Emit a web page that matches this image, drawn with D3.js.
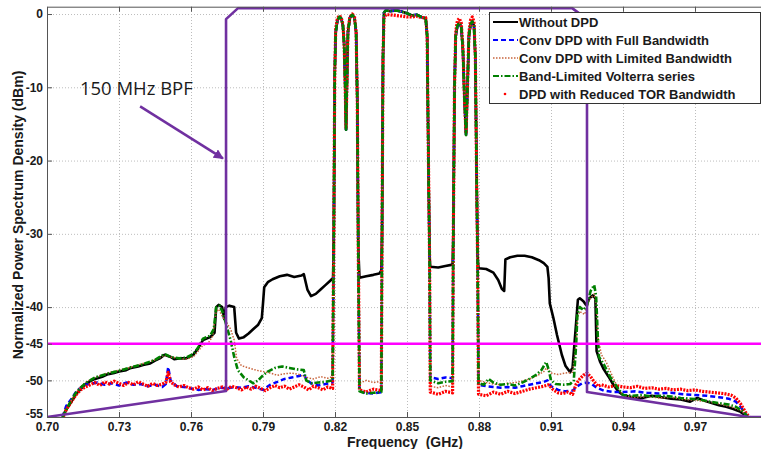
<!DOCTYPE html>
<html>
<head>
<meta charset="utf-8">
<script src="https://cdn.jsdelivr.net/npm/d3@7"></script>
<style>
  body { margin: 0; background: #fff; }
  svg { display: block; font-family: "Liberation Sans", Arial, sans-serif; }
</style>
</head>
<body>
<div id="chart"></div>
<script>
// ---- axis ticks ----
const xTicks = [0.70, 0.73, 0.76, 0.79, 0.82, 0.85, 0.88, 0.91, 0.94, 0.97];
const yTicks = [0, -10, -20, -30, -40, -45, -50, -55];

// ---- carrier shapes (shared by the DPD curves) ----
const carrierA = [[0.8195,-30],[0.8199,-8],[0.8203,-2.5],[0.8210,-0.9],[0.8218,-0.4],[0.8226,-0.6],[0.8233,-1.6],[0.8238,-4],[0.8242,-9],[0.8246,-15.8],[0.8250,-9],[0.8254,-2.5],[0.8262,-0.5],[0.8272,-0.1],[0.8281,-0.5],[0.8288,-2.5],[0.8293,-12],[0.8297,-32]];
const carrierB = [[0.8396,-30],[0.8400,-6],[0.8404,0.2],[0.8412,0.5],[0.8430,0.4],[0.8455,0.5],[0.8480,0.3],[0.8500,0.1],[0.8520,-0.2],[0.8540,-0.1],[0.8560,-0.4],[0.8578,-0.6],[0.8584,-3],[0.8590,-22],[0.8594,-33]];
const carrierC = [[0.8693,-30],[0.8698,-10],[0.8703,-3],[0.8710,-1.6],[0.8718,-1.2],[0.8726,-1.8],[0.8733,-5],[0.8740,-12],[0.8746,-16.5],[0.8752,-10],[0.8758,-3],[0.8765,-1.4],[0.8772,-1.0],[0.8779,-1.6],[0.8785,-6],[0.8790,-22],[0.8794,-33]];
const redCarrierA = [[0.8195,-30],[0.8199,-8],[0.8203,-2.0],[0.8210,-0.6],[0.8218,-0.2],[0.8226,-0.5],[0.8233,-1.4],[0.8238,-4],[0.8242,-9],[0.8246,-15.5],[0.8250,-9],[0.8254,-2.2],[0.8262,-0.4],[0.8272,0.0],[0.8281,-0.3],[0.8288,-2.5],[0.8293,-12],[0.8297,-32]];
const redCarrierB = [[0.8396,-30],[0.8400,-6],[0.8404,-0.6],[0.8412,-0.1],[0.8430,-0.1],[0.8455,-0.2],[0.8480,-0.3],[0.8500,-0.4],[0.8520,-0.4],[0.8540,-0.3],[0.8560,-0.5],[0.8578,-0.5],[0.8584,-3],[0.8590,-22],[0.8594,-33]];
const redCarrierC = [[0.8693,-30],[0.8698,-10],[0.8703,-2.5],[0.8710,-0.9],[0.8718,-0.6],[0.8726,-1.2],[0.8733,-4.5],[0.8740,-12],[0.8746,-16.3],[0.8752,-10],[0.8758,-2.5],[0.8765,-0.8],[0.8772,-0.4],[0.8779,-1.0],[0.8785,-6],[0.8790,-22],[0.8794,-33]];

// ---- Without DPD ----
const blackLeft = [[0.7065,-55],[0.708,-54],[0.710,-53],[0.712,-51.9],[0.714,-51.2],[0.716,-50.5],[0.718,-50.1],[0.720,-49.8],[0.723,-49.5],[0.725,-49.2],[0.728,-49.0],[0.730,-48.8],[0.733,-48.6],[0.735,-48.3],[0.738,-48.1],[0.740,-47.9],[0.743,-47.7],[0.745,-47.3],[0.747,-47.0],[0.749,-46.5],[0.7515,-46.8],[0.753,-47.1],[0.755,-47.0],[0.758,-47.0],[0.761,-46.5],[0.763,-45.6],[0.765,-44.5],[0.768,-44.1],[0.7698,-43.5],[0.7705,-40.0],[0.7715,-39.7],[0.773,-40.0],[0.7738,-41.6],[0.7745,-40.0],[0.776,-39.8],[0.778,-40.0],[0.7788,-43.5],[0.780,-44.3],[0.782,-44.1],[0.784,-43.6],[0.786,-43.0],[0.788,-42.4],[0.7895,-41.5],[0.790,-39.5],[0.7905,-37.3],[0.792,-36.6],[0.794,-36.2],[0.797,-35.8],[0.800,-35.6],[0.803,-35.9],[0.806,-35.7],[0.807,-35.5],[0.8085,-37.6],[0.810,-38.5],[0.812,-38.2],[0.814,-37.6],[0.816,-37.0],[0.818,-36.4],[0.8192,-36.0]];
const blackGap1 = [[0.8302,-36.0],[0.833,-35.8],[0.836,-35.6],[0.8385,-35.4],[0.8393,-35.0]];
const blackGap2 = [[0.8597,-34.5],[0.863,-34.6],[0.866,-34.4],[0.869,-34.2]];
const blackRight = [[0.8798,-34.7],[0.883,-34.8],[0.886,-35.3],[0.888,-36.3],[0.8895,-37.5],[0.8905,-37.8],[0.891,-33.5],[0.893,-33.2],[0.896,-33.0],[0.899,-33.0],[0.902,-33.2],[0.905,-33.6],[0.907,-34.0],[0.9085,-34.5],[0.909,-36],[0.9095,-39.5],[0.911,-41.5],[0.9125,-43.8],[0.9145,-46.5],[0.916,-48.0],[0.918,-48.9],[0.919,-48.2],[0.9205,-42],[0.9212,-39],[0.922,-38.8],[0.9235,-39.2],[0.9246,-39.7],[0.926,-38.8],[0.9275,-38.4],[0.9285,-38.8],[0.929,-46],[0.9305,-47.5],[0.932,-48.5],[0.934,-49.5],[0.936,-50.6],[0.938,-51.5],[0.940,-52.0],[0.944,-52.3],[0.948,-52.4],[0.952,-52.1],[0.956,-52.3],[0.960,-52.5],[0.964,-52.6],[0.968,-52.9],[0.971,-52.4],[0.974,-52.8],[0.977,-53.1],[0.980,-53.4],[0.983,-53.6],[0.986,-53.9],[0.989,-54.3],[0.991,-54.8],[0.992,-55]];

// ---- Conv DPD with Full Bandwidth ----
const blueLeft = [[0.7065,-55],[0.708,-53.5],[0.710,-52.6],[0.712,-51.6],[0.714,-51.0],[0.716,-50.6],[0.718,-50.5],[0.721,-50.3],[0.724,-50.6],[0.727,-50.4],[0.730,-50.7],[0.733,-50.3],[0.736,-50.6],[0.739,-50.5],[0.742,-50.8],[0.745,-50.6],[0.748,-50.9],[0.7495,-50.5],[0.7505,-48.2],[0.7515,-50.0],[0.754,-50.8],[0.757,-50.9],[0.760,-51.1],[0.763,-51.3],[0.766,-51.2],[0.769,-51.3],[0.772,-51.0],[0.775,-51.1],[0.778,-50.9],[0.781,-51.0],[0.784,-50.8],[0.787,-51.0],[0.790,-51.3],[0.793,-50.6],[0.796,-50.2],[0.799,-49.8],[0.802,-49.6],[0.805,-49.4],[0.807,-49.2],[0.808,-49.8],[0.810,-50.4],[0.813,-50.7],[0.816,-50.5],[0.819,-50.3]];
const blueGap1 = [[0.8302,-51.5],[0.833,-51.7],[0.836,-51.8],[0.8393,-51.6]];
const blueGap2 = [[0.8597,-49.6],[0.863,-49.8],[0.866,-49.6],[0.869,-49.7]];
const blueRight = [[0.8798,-50.6],[0.883,-50.8],[0.886,-50.9],[0.889,-51.0],[0.892,-50.9],[0.895,-51.0],[0.898,-50.8],[0.901,-50.6],[0.904,-50.4],[0.907,-50.2],[0.9085,-50.0],[0.910,-50.8],[0.913,-51.3],[0.916,-51.5],[0.919,-51.4],[0.921,-50.8],[0.923,-50.4],[0.925,-50.3],[0.927,-50.5],[0.929,-51.0],[0.932,-51.4],[0.936,-51.6],[0.940,-51.6],[0.945,-51.5],[0.950,-51.7],[0.955,-51.8],[0.960,-51.7],[0.965,-51.9],[0.970,-52.0],[0.975,-52.1],[0.980,-52.3],[0.984,-52.5],[0.987,-52.9],[0.989,-53.6],[0.991,-54.6],[0.992,-55]];

// ---- Conv DPD with Limited Bandwidth ----
const brownLeft = [[0.7065,-55],[0.708,-54],[0.710,-52.8],[0.712,-51.6],[0.714,-50.9],[0.716,-50.3],[0.718,-49.9],[0.720,-49.6],[0.725,-49.0],[0.730,-48.6],[0.735,-48.2],[0.740,-47.7],[0.745,-47.2],[0.749,-46.6],[0.7515,-46.8],[0.755,-47.0],[0.758,-47.1],[0.761,-46.8],[0.763,-46.0],[0.765,-45.2],[0.767,-45.0],[0.769,-44.0],[0.7705,-40.6],[0.7715,-40.3],[0.773,-41.2],[0.775,-42.2],[0.7765,-43.0],[0.778,-44.5],[0.779,-47.0],[0.781,-48.0],[0.784,-48.3],[0.787,-48.6],[0.790,-48.8],[0.793,-49.0],[0.796,-49.3],[0.799,-49.1],[0.802,-49.0],[0.805,-49.2],[0.808,-49.6],[0.811,-49.8],[0.814,-49.5],[0.817,-49.7],[0.819,-49.5]];
const brownGap1 = [[0.8302,-50.4],[0.833,-50.0],[0.836,-50.3],[0.8393,-50.1]];
const brownGap2 = [[0.8597,-50.8],[0.863,-51.0],[0.866,-50.7],[0.869,-50.9]];
const brownRight = [[0.8798,-50.0],[0.883,-50.3],[0.886,-50.5],[0.889,-50.6],[0.892,-50.4],[0.895,-50.3],[0.898,-50.1],[0.901,-49.8],[0.904,-49.4],[0.907,-48.8],[0.908,-48.3],[0.910,-49.0],[0.913,-49.2],[0.916,-49.0],[0.919,-48.9],[0.9205,-45],[0.921,-41.5],[0.922,-40.6],[0.924,-41.0],[0.926,-39.0],[0.928,-38.2],[0.929,-40],[0.9295,-44],[0.931,-46.5],[0.933,-47.5],[0.935,-49.0],[0.9375,-50.8],[0.940,-52.1],[0.945,-52.3],[0.950,-52.2],[0.955,-52.4],[0.960,-52.3],[0.965,-52.6],[0.970,-52.7],[0.975,-52.9],[0.980,-53.2],[0.985,-53.6],[0.989,-54.1],[0.992,-55]];

// ---- Band-Limited Volterra series ----
const greenLeft = [[0.7065,-55],[0.708,-54],[0.710,-52.8],[0.712,-51.7],[0.714,-51.0],[0.716,-50.4],[0.718,-50.0],[0.720,-49.6],[0.725,-49.1],[0.730,-48.7],[0.735,-48.2],[0.740,-47.8],[0.745,-47.2],[0.749,-46.4],[0.7515,-46.8],[0.755,-47.0],[0.758,-46.9],[0.761,-46.4],[0.763,-45.5],[0.765,-44.3],[0.768,-43.9],[0.7695,-43],[0.7705,-40.0],[0.772,-39.8],[0.7735,-41.0],[0.775,-42.8],[0.7765,-44.5],[0.778,-46.8],[0.7795,-48.6],[0.782,-49.6],[0.784,-50.0],[0.786,-50.4],[0.788,-50.0],[0.790,-49.3],[0.792,-48.8],[0.795,-48.3],[0.798,-48.1],[0.801,-48.3],[0.804,-48.5],[0.807,-48.6],[0.808,-50.0],[0.810,-50.4],[0.813,-50.3],[0.816,-50.2],[0.819,-50.0]];
const greenGap1 = [[0.8302,-51.5],[0.833,-51.8],[0.836,-51.7],[0.8393,-51.6]];
const greenGap2 = [[0.8597,-50.0],[0.863,-50.4],[0.866,-50.2],[0.869,-50.1]];
const greenRight = [[0.8798,-50.4],[0.882,-50.6],[0.884,-49.8],[0.886,-50.3],[0.889,-50.6],[0.892,-50.5],[0.895,-50.7],[0.898,-50.3],[0.901,-49.8],[0.904,-49.2],[0.906,-48.6],[0.908,-47.5],[0.909,-48.5],[0.910,-50.0],[0.912,-50.5],[0.915,-50.6],[0.918,-50.5],[0.9195,-50.0],[0.9205,-45],[0.921,-41],[0.922,-40.0],[0.9235,-40.4],[0.925,-39.8],[0.9265,-37.8],[0.928,-37.0],[0.9288,-38.5],[0.9295,-44],[0.930,-46.8],[0.932,-47.8],[0.9346,-49.5],[0.9375,-50.9],[0.940,-52.0],[0.944,-52.1],[0.948,-52.0],[0.952,-52.2],[0.956,-52.1],[0.960,-52.2],[0.964,-52.4],[0.968,-52.5],[0.972,-52.6],[0.976,-52.9],[0.980,-53.1],[0.984,-53.3],[0.987,-53.6],[0.990,-54.2],[0.992,-55]];

// ---- DPD with Reduced TOR Bandwidth ----
const redLeft = [[0.7068,-55],[0.708,-54],[0.710,-53.0],[0.712,-52.0],[0.714,-51.3],[0.716,-50.9],[0.718,-50.6],[0.720,-50.3],[0.722,-50.7],[0.724,-50.2],[0.726,-50.5],[0.728,-50.1],[0.730,-50.4],[0.732,-50.7],[0.734,-50.3],[0.736,-50.6],[0.738,-50.2],[0.740,-50.5],[0.742,-50.8],[0.744,-50.4],[0.746,-50.7],[0.748,-50.5],[0.7495,-50.3],[0.7505,-48.9],[0.7515,-50.2],[0.753,-50.6],[0.755,-50.9],[0.757,-50.7],[0.759,-51.0],[0.761,-51.2],[0.763,-50.9],[0.765,-51.3],[0.767,-51.0],[0.769,-51.4],[0.771,-51.1],[0.773,-50.9],[0.775,-51.2],[0.777,-50.8],[0.779,-51.0],[0.781,-51.3],[0.783,-50.9],[0.785,-51.2],[0.787,-50.8],[0.789,-51.1],[0.791,-51.4],[0.793,-51.0],[0.795,-50.7],[0.797,-51.0],[0.799,-50.8],[0.801,-51.2],[0.803,-50.9],[0.805,-50.6],[0.807,-50.9],[0.809,-51.3],[0.811,-50.8],[0.813,-51.0],[0.815,-51.3],[0.817,-50.9],[0.819,-51.1]];
const redGap1 = [[0.8302,-51.3],[0.833,-51.6],[0.836,-51.2],[0.8393,-51.4]];
const redGap2 = [[0.8597,-51.6],[0.863,-51.9],[0.866,-51.5],[0.869,-51.7]];
const redRight = [[0.8798,-51.9],[0.883,-52.1],[0.886,-51.6],[0.889,-51.9],[0.892,-51.5],[0.895,-51.8],[0.898,-51.5],[0.901,-51.2],[0.904,-51.0],[0.907,-50.8],[0.909,-50.6],[0.911,-51.3],[0.913,-51.7],[0.915,-51.8],[0.917,-51.6],[0.919,-51.9],[0.9205,-50.5],[0.922,-49.8],[0.9235,-49.3],[0.925,-49.0],[0.9265,-49.5],[0.928,-50.2],[0.9295,-50.8],[0.931,-50.6],[0.934,-50.9],[0.937,-50.7],[0.940,-50.9],[0.943,-51.0],[0.946,-50.8],[0.949,-51.1],[0.952,-51.0],[0.955,-51.2],[0.958,-51.1],[0.961,-51.3],[0.964,-51.2],[0.967,-51.4],[0.970,-51.3],[0.973,-51.5],[0.976,-51.6],[0.979,-51.7],[0.982,-51.8],[0.985,-52.0],[0.987,-52.4],[0.989,-53.2],[0.991,-54.3],[0.9925,-55]];

// ---- 150 MHz band-pass filter outline and -45 dBm limit ----
const bpfMask = [[0.700,-55],[0.7746,-51.45],[0.7746,-0.7],[0.7796,0.8],[0.9188,0.8],[0.9250,-0.7],[0.9250,-51.6],[0.9925,-55],[1.0,-55]];
const limitLevel = -45;

const seriesNames = [
  'Without DPD',
  'Conv DPD with Full Bandwidth',
  'Conv DPD with Limited Bandwidth',
  'Band-Limited Volterra series',
  'DPD with Reduced TOR Bandwidth'
];

// 组装曲线 (z 控制绘制顺序)
const series = [
  { name: seriesNames[0], color: '#000000', width: 2.6, dash: null, z: 0,
    data: [...blackLeft, ...carrierA, ...blackGap1, ...carrierB, ...blackGap2, ...carrierC, ...blackRight] },
  { name: seriesNames[1], color: '#0000ff', width: 2.5, dash: '5,3', z: 1,
    data: [...blueLeft, ...carrierA, ...blueGap1, ...carrierB, ...blueGap2, ...carrierC, ...blueRight] },
  { name: seriesNames[2], color: '#c8643c', width: 1.5, dash: '1.5,1.5', z: 2,
    data: [...brownLeft, ...carrierA, ...brownGap1, ...carrierB, ...brownGap2, ...carrierC, ...brownRight] },
  { name: seriesNames[3], color: '#008000', width: 2.6, dash: '6,2,1.5,2', z: 4,
    data: [...greenLeft, ...carrierA, ...greenGap1, ...carrierB, ...greenGap2, ...carrierC, ...greenRight] },
  { name: seriesNames[4], color: '#ff0000', width: 3.2, dash: '2,1.2', z: 3,
    data: [...redLeft, ...redCarrierA, ...redGap1, ...redCarrierB, ...redGap2, ...redCarrierC, ...redRight] }
];

const width = 761, height = 449;
const plot = { left: 47, right: 767, top: 6.7, bottom: 417 };

const svg = d3.select('#chart').append('svg')
  .attr('width', width)
  .attr('height', height);

const x = d3.scaleLinear().domain([0.70, 1.00]).range([plot.left, plot.right]);
const y = d3.scaleLinear().domain([-55, 1]).range([plot.bottom, plot.top]);

const defs = svg.append('defs');
defs.append('clipPath').attr('id', 'clip')
  .append('rect')
  .attr('x', plot.left).attr('y', plot.top)
  .attr('width', plot.right - plot.left).attr('height', plot.bottom - plot.top);

// 网格
const grid = svg.append('g').attr('class', 'grid');
grid.append('g')
  .attr('transform', `translate(0,${plot.bottom})`)
  .call(d3.axisBottom(x).tickValues(xTicks).tickSize(-(plot.bottom - plot.top)).tickFormat(''))
  .call(g => g.select('.domain').remove());
grid.append('g')
  .attr('transform', `translate(${plot.left},0)`)
  .call(d3.axisLeft(y).tickValues(yTicks).tickSize(-(plot.right - plot.left)).tickFormat(''))
  .call(g => g.select('.domain').remove());
grid.selectAll('line')
  .attr('stroke', '#bdbdbd')
  .attr('stroke-width', 1)
  .attr('stroke-dasharray', '1,2');

// 曲线
const line = d3.line().x(d => x(d[0])).y(d => y(d[1]));
const curves = svg.append('g').attr('clip-path', 'url(#clip)');
curves.selectAll('.series')
  .data(series.slice().sort((a, b) => a.z - b.z))
  .enter()
  .append('path')
  .attr('class', 'series')
  .attr('d', d => line(d.data))
  .attr('fill', 'none')
  .attr('stroke', d => d.color)
  .attr('stroke-width', d => d.width)
  .attr('stroke-dasharray', d => d.dash)
  .attr('stroke-linejoin', 'round');

// BPF 轮廓
curves.append('path')
  .datum(bpfMask)
  .attr('d', line)
  .attr('fill', 'none')
  .attr('stroke', '#7030a0')
  .attr('stroke-width', 2.6)
  .attr('stroke-linejoin', 'round');

// -45 dBm 线
curves.append('line')
  .attr('x1', x(0.70)).attr('x2', x(1.0))
  .attr('y1', y(limitLevel)).attr('y2', y(limitLevel))
  .attr('stroke', '#ff00ff')
  .attr('stroke-width', 2.6);

// 坐标轴
const xAxis = svg.append('g')
  .attr('transform', `translate(0,${plot.bottom})`)
  .call(d3.axisBottom(x).tickValues(xTicks).tickFormat(d3.format('.2f')).tickSizeInner(-5).tickSizeOuter(0).tickPadding(5));
const xAxisTop = svg.append('g')
  .attr('transform', `translate(0,${plot.top})`)
  .call(d3.axisTop(x).tickValues(xTicks).tickFormat('').tickSizeInner(-5).tickSizeOuter(0));
const yAxis = svg.append('g')
  .attr('transform', `translate(${plot.left},0)`)
  .call(d3.axisLeft(y).tickValues(yTicks).tickFormat(d => String(d)).tickSizeInner(-5).tickSizeOuter(0).tickPadding(4));

[xAxis, xAxisTop, yAxis].forEach(a => {
  a.select('.domain').attr('stroke', '#555').attr('stroke-width', 1);
  a.selectAll('.tick line').attr('stroke', '#555');
  a.selectAll('text')
    .attr('fill', '#1a1a1a')
    .style('font-size', '12px')
    .style('font-weight', 'bold')
    .style('font-family', '"Liberation Sans", Arial, sans-serif');
});
// 最下面的 -55 标签稍微上移，避免和 0.70 重叠
yAxis.selectAll('.tick text').filter(d => d === -55).attr('dy', '0.05em');

// 轴标题
svg.append('text')
  .attr('x', 405)
  .attr('y', 447)
  .attr('text-anchor', 'middle')
  .style('font-size', '14px')
  .style('font-weight', 'bold')
  .attr('fill', '#1a1a1a')
  .attr('xml:space', 'preserve')
  .text('Frequency  (GHz)');

svg.append('text')
  .attr('transform', 'translate(23,215) rotate(-90)')
  .attr('text-anchor', 'middle')
  .style('font-size', '14px')
  .style('font-weight', 'bold')
  .attr('fill', '#1a1a1a')
  .text('Normalized Power Spectrum Density (dBm)');

// 注释
const arrowFrom = [0.7388, -12.6];
const arrowTo = [0.7733, -19.7];
const labelAt = [0.7137, -11.1];
defs.append('marker')
  .attr('id', 'arrow')
  .attr('viewBox', '0 0 10 10')
  .attr('refX', 9).attr('refY', 5)
  .attr('markerWidth', 4).attr('markerHeight', 4)
  .attr('orient', 'auto')
  .append('path')
  .attr('d', 'M0,0L10,5L0,10z')
  .attr('fill', '#7030a0');
svg.append('line')
  .attr('x1', x(arrowFrom[0])).attr('y1', y(arrowFrom[1]))
  .attr('x2', x(arrowTo[0])).attr('y2', y(arrowTo[1]))
  .attr('stroke', '#7030a0')
  .attr('stroke-width', 2.5)
  .attr('marker-end', 'url(#arrow)');
svg.append('text')
  .attr('x', x(labelAt[0]))
  .attr('y', y(labelAt[1]))
  .style('font-family', '"Open Sans", sans-serif')
  .style('font-size', '18.5px')
  .attr('fill', '#1a1a1a')
  .text('150 MHz BPF');

// 图例
const legend = svg.append('g').attr('transform', 'translate(489,12)');
legend.append('rect')
  .attr('x', 0.5).attr('y', 0.5)
  .attr('width', 271).attr('height', 91)
  .attr('fill', '#fff')
  .attr('stroke', '#333')
  .attr('stroke-width', 1);
const items = legend.selectAll('.item')
  .data(series)
  .enter()
  .append('g')
  .attr('class', 'item')
  .attr('transform', (d, i) => `translate(0,${10 + i * 18})`);
items.filter((d, i) => i < 4).append('line')
  .attr('x1', 4).attr('x2', 29)
  .attr('y1', 0).attr('y2', 0)
  .attr('stroke', d => d.color)
  .attr('stroke-width', d => Math.min(d.width, 2))
  .attr('stroke-dasharray', d => d.dash);
items.filter((d, i) => i === 4).append('circle')
  .attr('cx', 16).attr('cy', 0).attr('r', 1.3)
  .attr('fill', d => d.color);
items.append('text')
  .attr('x', 30)
  .attr('y', 0)
  .attr('dy', '0.36em')
  .style('font-size', '13px')
  .style('font-weight', 'bold')
  .attr('fill', '#1a1a1a')
  .text(d => d.name);
</script>
</body>
</html>
